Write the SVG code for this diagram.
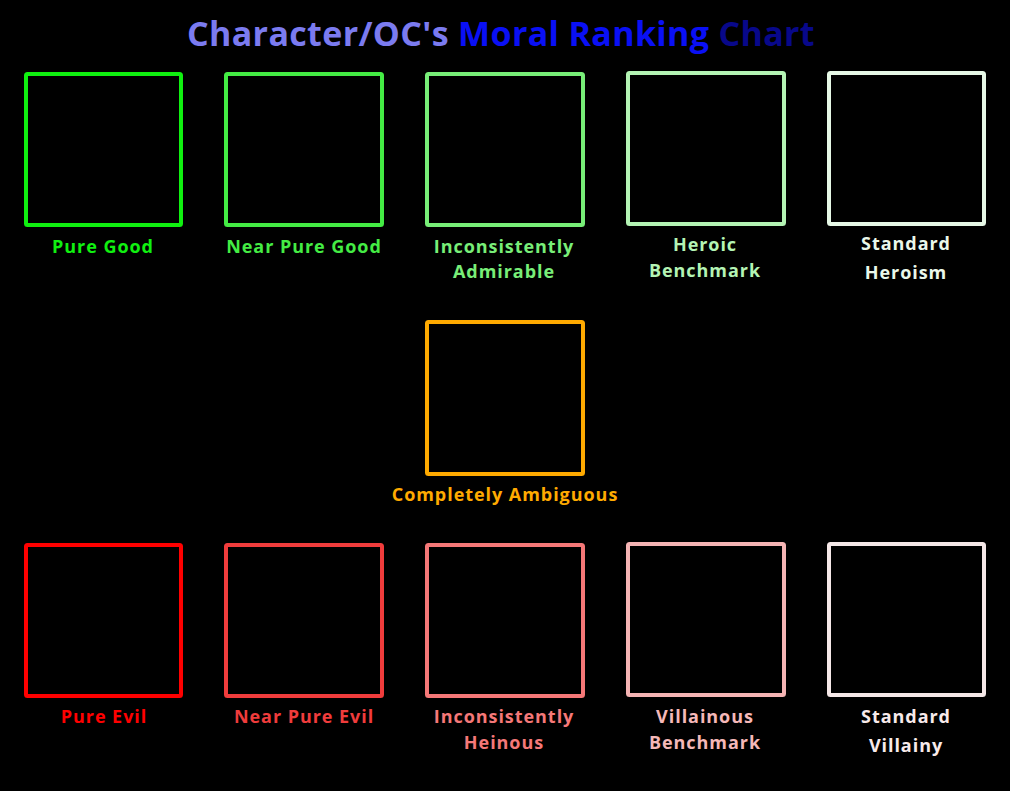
<svg xmlns="http://www.w3.org/2000/svg" width="1010" height="791" viewBox="0 0 1010 791">
<style>
.box{fill:#000;stroke-width:4;}
.lbl{font-family:"Open Sans","Liberation Sans",sans-serif;font-weight:700;font-size:18px;letter-spacing:0.95px;text-anchor:middle;}
.title{font-family:"Open Sans","Liberation Sans",sans-serif;font-weight:700;font-size:34px;letter-spacing:0.35px;text-anchor:middle;}
</style>
<rect width="1010" height="791" fill="#000"/>
<text class="title" x="501" y="46"><tspan fill="#7b7bf0">Character/OC's </tspan><tspan fill="#0a10f5">Moral Ranking </tspan><tspan fill="#08088a">Chart</tspan></text>
<g id="pure-good"><rect class="box" x="26" y="74" width="155" height="151" rx="1.5" stroke="#10f010"/><text class="lbl" x="103" y="253" fill="#10f010">Pure Good</text></g>
<g id="near-pure-good"><rect class="box" x="226" y="74" width="156" height="151" rx="1.5" stroke="#44ec44"/><text class="lbl" x="304" y="253" fill="#44ec44">Near Pure Good</text></g>
<g id="inconsistently-admirable"><rect class="box" x="427" y="74" width="156" height="151" rx="1.5" stroke="#78ee78"/><text class="lbl" x="504" y="253" fill="#78ee78">Inconsistently</text><text class="lbl" x="504" y="278" fill="#78ee78">Admirable</text></g>
<g id="heroic-benchmark"><rect class="box" x="628" y="73" width="156" height="151" rx="1.5" stroke="#b4f4b4"/><text class="lbl" x="705" y="251" fill="#b4f4b4">Heroic</text><text class="lbl" x="705" y="277" fill="#b4f4b4">Benchmark</text></g>
<g id="standard-heroism"><rect class="box" x="829" y="73" width="155" height="151" rx="1.5" stroke="#e6f8e6"/><text class="lbl" x="906" y="250" fill="#eaf8ea">Standard</text><text class="lbl" x="906" y="279" fill="#eaf8ea">Heroism</text></g>
<g id="completely-ambiguous"><rect class="box" x="427" y="322" width="156" height="152" rx="1.5" stroke="#ffaa00"/><text class="lbl" x="505" y="501" fill="#ffaa00">Completely Ambiguous</text></g>
<g id="pure-evil"><rect class="box" x="26" y="545" width="155" height="151" rx="1.5" stroke="#ff0000"/><text class="lbl" x="104" y="723" fill="#ff0000">Pure Evil</text></g>
<g id="near-pure-evil"><rect class="box" x="226" y="545" width="156" height="151" rx="1.5" stroke="#f03c3c"/><text class="lbl" x="304" y="723" fill="#f03c3c">Near Pure Evil</text></g>
<g id="inconsistently-heinous"><rect class="box" x="427" y="545" width="156" height="151" rx="1.5" stroke="#f57878"/><text class="lbl" x="504" y="723" fill="#f57878">Inconsistently</text><text class="lbl" x="504" y="749" fill="#f57878">Heinous</text></g>
<g id="villainous-benchmark"><rect class="box" x="628" y="544" width="156" height="151" rx="1.5" stroke="#f5b4b4"/><text class="lbl" x="705" y="723" fill="#f5b8b8">Villainous</text><text class="lbl" x="705" y="749" fill="#f5b8b8">Benchmark</text></g>
<g id="standard-villainy"><rect class="box" x="829" y="544" width="155" height="151" rx="1.5" stroke="#f5e8e8"/><text class="lbl" x="906" y="723" fill="#f8eaea">Standard</text><text class="lbl" x="906" y="752" fill="#f8eaea">Villainy</text></g>
<g id="connectors"></g>
</svg>
